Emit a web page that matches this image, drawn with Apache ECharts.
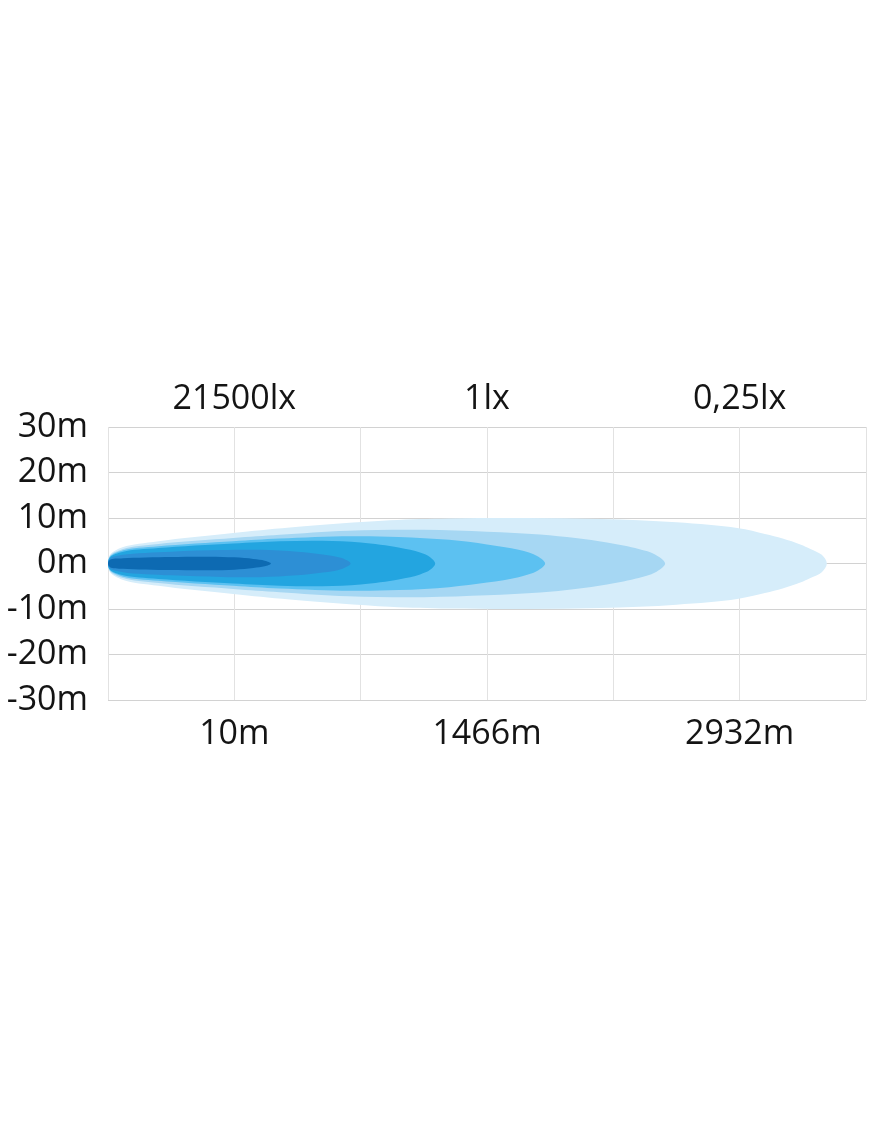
<!DOCTYPE html>
<html>
<head>
<meta charset="utf-8">
<script src="https://cdn.jsdelivr.net/npm/echarts@6/dist/echarts.min.js"></script>
<style>
html,body{margin:0;padding:0;background:#fff;}
#chart{width:870px;height:1131px;}
</style>
</head>
<body>
<div id="chart"></div>
<script>
// Tick labels
var xTickPositions = [1, 3, 5];
var distanceLabels = ['10m', '1466m', '2932m'];
var luxLabels = ['21500lx', '1lx', '0,25lx'];

// Beam contours: [position along x-axis grid units, half-width in metres]
var beam025lx = [[0,0],[0.016,1.9],[0.12,3.6],[0.4,4.9],[0.99,6.7],[1.44,7.9],[2.23,9.5],[2.7,9.9],[3.3,10],[3.9,9.8],[4.5,9.05],[4.98,7.8],[5.2,6.5],[5.34,5.5],[5.48,4.2],[5.56,3.2],[5.65,1.9],[5.69,0]];
var beam05lx = [[0,0],[0.016,1.7],[0.12,3.2],[0.4,4.3],[0.99,5.6],[1.36,6.3],[1.9,7.2],[2.5,7.4],[3.0,7.0],[3.42,6.4],[3.7,5.6],[3.95,4.6],[4.2,3.2],[4.33,2.0],[4.41,0]];
var beam1lx = [[0,0],[0.016,1.5],[0.12,2.9],[0.4,3.8],[0.99,4.9],[1.36,5.5],[1.92,6.0],[2.3,5.85],[2.7,5.2],[3.0,4.2],[3.25,3.0],[3.4,1.6],[3.46,0]];
var beam10lx = [[0,0],[0.016,1.4],[0.12,2.6],[0.4,3.4],[0.99,4.4],[1.36,4.9],[1.7,5.0],[2.0,4.6],[2.3,3.5],[2.47,2.4],[2.55,1.4],[2.59,0]];
var beam100lx = [[0,0],[0.016,1.1],[0.12,1.9],[0.5,2.6],[0.9,2.95],[1.2,3.0],[1.5,2.6],[1.7,2.0],[1.85,1.2],[1.92,0]];
var beam21500lx = [[0,0],[0.016,0.8],[0.12,1.15],[0.5,1.45],[0.8,1.5],[1.0,1.35],[1.15,1.0],[1.24,0.63],[1.29,0]];

var beams = [beam025lx, beam05lx, beam1lx, beam10lx, beam100lx, beam21500lx];
var beamColors = ['#d6edfa', '#a6d7f3', '#5cc1f1', '#23a5e0', '#2d8fd5', '#0d6ab2'];

function labelFor(v, list) {
  var i = xTickPositions.indexOf(Math.round(v * 1000) / 1000);
  return i >= 0 ? list[i] : '';
}

// closed centripetal Catmull-Rom path through pixel points
function closedSplinePath(p) {
  var n = p.length;
  function d(a, b) {
    var dx = b[0] - a[0], dy = b[1] - a[1];
    return Math.max(Math.sqrt(Math.sqrt(dx * dx + dy * dy)), 1e-4);
  }
  var s = 'M' + p[0][0].toFixed(2) + ' ' + p[0][1].toFixed(2);
  for (var i = 0; i < n; i++) {
    var p0 = p[(i - 1 + n) % n], p1 = p[i], p2 = p[(i + 1) % n], p3 = p[(i + 2) % n];
    var d1 = d(p0, p1), d2 = d(p1, p2), d3 = d(p2, p3);
    var c1 = [], c2 = [];
    for (var k = 0; k < 2; k++) {
      c1[k] = (d1 * d1 * p2[k] - d2 * d2 * p0[k] + (2 * d1 * d1 + 3 * d1 * d2 + d2 * d2) * p1[k]) / (3 * d1 * (d1 + d2));
      c2[k] = (d3 * d3 * p1[k] - d2 * d2 * p3[k] + (2 * d3 * d3 + 3 * d3 * d2 + d2 * d2) * p2[k]) / (3 * d3 * (d3 + d2));
    }
    s += 'C' + c1[0].toFixed(2) + ' ' + c1[1].toFixed(2) + ' ' + c2[0].toFixed(2) + ' ' + c2[1].toFixed(2) + ' ' + p2[0].toFixed(2) + ' ' + p2[1].toFixed(2);
  }
  return s + 'Z';
}

var chart = echarts.init(document.getElementById('chart'), null, {renderer: 'canvas'});

var series = beams.map(function (profile, bi) {
  return {
    type: 'custom',
    coordinateSystem: 'cartesian2d',
    xAxisIndex: 0,
    yAxisIndex: 0,
    silent: true,
    z: 2 + bi,
    data: profile,
    renderItem: function (params, api) {
      if (params.dataIndex !== 0) return null;
      var pts = [];
      for (var i = 0; i < profile.length; i++) {
        pts.push(api.coord([profile[i][0], profile[i][1]]));
      }
      for (var j = profile.length - 2; j > 0; j--) {
        pts.push(api.coord([profile[j][0], -profile[j][1]]));
      }
      return {
        type: 'path',
        shape: {pathData: closedSplinePath(pts)},
        style: {fill: beamColors[bi], stroke: null}
      };
    }
  };
});

chart.setOption({
  backgroundColor: '#ffffff',
  animation: false,
  grid: {left: 108, right: 4, top: 427, bottom: 431, containLabel: false},
  xAxis: [{
    type: 'value', position: 'bottom', min: 0, max: 6, interval: 1,
    axisLine: {show: false}, axisTick: {show: false},
    splitLine: {show: true, lineStyle: {color: '#e2e2e2', width: 1}},
    axisLabel: {
      show: true, margin: 17, color: '#141414', fontSize: 34, fontFamily: 'Open Sans',
      showMinLabel: true, showMaxLabel: true,
      formatter: function (v) { return labelFor(v, distanceLabels); }
    }
  }, {
    type: 'value', position: 'top', min: 0, max: 6, interval: 1,
    axisLine: {show: false}, axisTick: {show: false}, splitLine: {show: false},
    axisLabel: {
      show: true, margin: 11, color: '#141414', fontSize: 34, fontFamily: 'Open Sans',
      formatter: function (v) { return labelFor(v, luxLabels); }
    }
  }],
  yAxis: {
    type: 'value', min: -30, max: 30, interval: 10,
    axisLine: {show: false}, axisTick: {show: false},
    splitLine: {show: true, lineStyle: {color: '#d2d2d2', width: 1}},
    axisLabel: {
      margin: 20, color: '#141414', fontSize: 34, fontFamily: 'Open Sans',
      formatter: function (v) { return v + 'm'; }
    }
  },
  series: series
});
</script>
</body>
</html>
